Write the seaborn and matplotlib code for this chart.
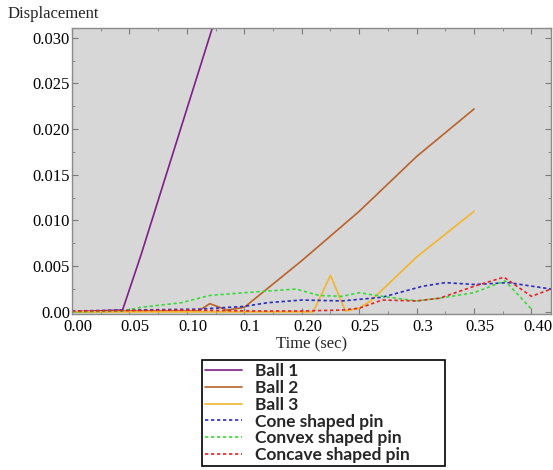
import numpy as np
import pandas as pd
import matplotlib
matplotlib.use("Agg")
import matplotlib.pyplot as plt
import matplotlib.transforms as mtransforms
from matplotlib.ticker import MultipleLocator
import seaborn as sns

# valori (tempo in s, spostamento)
ball1_t = [0.0, 0.02, 0.044, 0.06, 0.08, 0.10, 0.125]
ball1_d = [0.0, 0.0001, 0.0002, 0.0062, 0.0142, 0.0222, 0.0322]

ball2_t = [0.0, 0.05, 0.11, 0.12, 0.135, 0.15, 0.20, 0.25, 0.30, 0.35]
ball2_d = [0.0, 0.0001, 0.0001, 0.0009, 0.0002, 0.0005, 0.0056, 0.0110, 0.0170, 0.0222]

ball3_t = [0.0, 0.10, 0.15, 0.21, 0.225, 0.238, 0.25, 0.26, 0.30, 0.35]
ball3_d = [0.0, 0.0, 0.0, 0.0, 0.0040, 0.0001, 0.0004, 0.0012, 0.0060, 0.0110]

cone_t = [0.0, 0.05, 0.11, 0.15, 0.17, 0.20, 0.235, 0.27, 0.305, 0.325, 0.35, 0.38, 0.417]
cone_d = [0.0001, 0.0002, 0.0003, 0.0006, 0.0010, 0.0013, 0.0012, 0.0016, 0.0028, 0.0032,
          0.0030, 0.0032, 0.0025]

convex_t = [0.0, 0.044, 0.06, 0.095, 0.12, 0.15, 0.195, 0.215, 0.235, 0.25, 0.27, 0.30,
            0.32, 0.35, 0.377, 0.40]
convex_d = [0.0, 0.0001, 0.0005, 0.0010, 0.0018, 0.0021, 0.0025, 0.0018, 0.0017, 0.0021,
            0.0017, 0.0012, 0.0015, 0.0021, 0.0034, 0.0003]

concave_t = [0.0, 0.10, 0.16, 0.20, 0.235, 0.25, 0.27, 0.30, 0.32, 0.35, 0.376, 0.40, 0.417]
concave_d = [0.0001, 0.0002, 0.0001, 0.0001, 0.0002, 0.0004, 0.0013, 0.0012, 0.0015, 0.0028,
             0.0038, 0.0017, 0.0025]

x_ticks = [0.0, 0.05, 0.10, 0.15, 0.20, 0.25, 0.30, 0.35, 0.40]
x_labels = ["0.00", "0.05", "0.10", "0.1", "0.20", "0.25", "0.3", "0.35", "0.40"]
y_ticks = [0.0, 0.005, 0.010, 0.015, 0.020, 0.025, 0.030]
y_labels = ["0.00", "0.005", "0.010", "0.015", "0.020", "0.025", "0.030"]

dot = (0, (2, 1.6))
series = [
    ("Ball 1", ball1_t, ball1_d, "#7e1f88", "-"),
    ("Ball 2", ball2_t, ball2_d, "#b8622c", "-"),
    ("Ball 3", ball3_t, ball3_d, "#f2b52c", "-"),
    ("Cone shaped pin", cone_t, cone_d, "#2b2bc4", dot),
    ("Convex shaped pin", convex_t, convex_d, "#3cd83c", dot),
    ("Concave shaped pin", concave_t, concave_d, "#e02626", dot),
]

sns.set_theme(style="ticks")
plt.rcParams["font.family"] = ["Liberation Serif", "DejaVu Serif"]

fig = plt.figure(figsize=(5.53, 4.70), dpi=100)
ax = fig.add_axes([72 / 553, 1 - 314 / 470, (551 - 72) / 553, (314 - 28) / 470])
ax.set_facecolor("#d7d7d7")

for name, t, d, col, ls in series:
    df = pd.DataFrame({"t": t, "d": d})
    sns.lineplot(data=df, x="t", y="d", ax=ax, color=col, linestyle=ls, linewidth=1.2,
                 label=name, sort=False, estimator=None)

ax.set_xlim(0, 0.417)
ax.set_ylim(-0.00023, 0.03106)

ax.set_xticks(x_ticks)
ax.set_xticklabels(x_labels)
ax.set_yticks(y_ticks)
ax.set_yticklabels(y_labels)
ax.xaxis.set_minor_locator(MultipleLocator(0.025))
ax.yaxis.set_minor_locator(MultipleLocator(0.0025))
ax.tick_params(which="both", direction="in", top=True, right=True, color="#7a7a7a",
               labelsize=12, labelcolor="black")
ax.tick_params(which="major", length=4, width=0.8)
ax.tick_params(which="minor", length=2.5, width=0.6)
ax.tick_params(axis="x", pad=3.5)
ax.tick_params(axis="y", pad=1.5)
for s in ax.spines.values():
    s.set_color("#8a8a8a")
    s.set_linewidth(1.0)

# le etichette dell'asse x sono leggermente spostate a destra nell'originale
offset = mtransforms.ScaledTranslation(6 / 100, 0, fig.dpi_scale_trans)
for lbl in ax.get_xticklabels():
    lbl.set_transform(lbl.get_transform() + offset)

ax.set_xlabel("Time (sec)", fontsize=12, labelpad=1)
ax.set_ylabel("")
fig.text(8 / 553, 1 - 14 / 470, "Displacement", fontsize=12, ha="left", va="center")

handles, labels = ax.get_legend_handles_labels()
leg = ax.legend(handles, labels, loc="upper left",
                bbox_to_anchor=(202 / 553, 0.004, 243 / 553, 1 - 360 / 470 - 0.004),
                bbox_transform=fig.transFigure, mode="expand", borderaxespad=0,
                prop={"family": "Lato", "weight": "bold", "size": 12.5},
                handlelength=2.1, handletextpad=0.75, labelspacing=0.04, borderpad=0.2,
                fancybox=False, framealpha=1, edgecolor="black", facecolor="white")
leg.get_frame().set_linewidth(1.2)

fig.savefig("out.png", dpi=100)
